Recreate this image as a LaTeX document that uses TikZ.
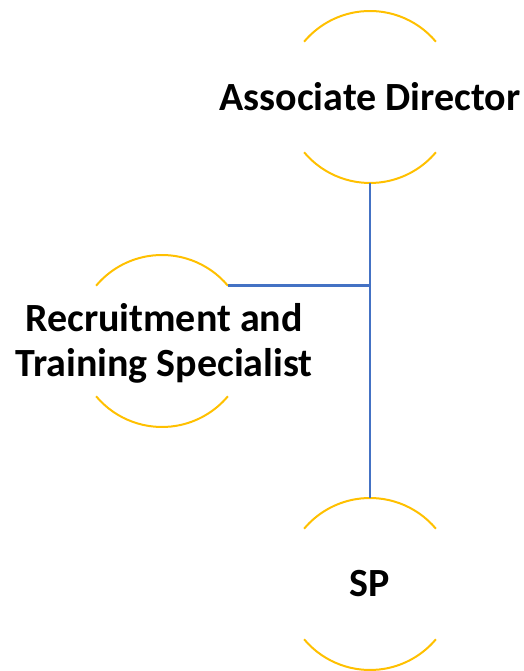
\documentclass[tikz,border=0pt]{standalone}
\usepackage{fontspec}
\setmainfont{Carlito}
\definecolor{ringgold}{HTML}{FFC000}
\definecolor{linkblue}{HTML}{4472C4}
\begin{document}
\begin{tikzpicture}[x=1pt,y=1pt,
  ring/.style={circle,minimum size=172pt,inner sep=0pt,outer sep=0pt},
  rtext/.style={font=\fontsize{40}{45}\selectfont\bfseries,align=center},
  arcline/.style={draw=ringgold,line width=2pt},
  link/.style={draw=linkblue,line width=2.5pt}]
\useasboundingbox (0,0) rectangle (523,671);
\node[ring,label={[rtext]center:Associate Director}] (ad) at (370,574) {};
\node[ring,label={[rtext,xshift=2pt,yshift=-2pt]center:Recruitment and\\Training Specialist}] (rts) at (162,330) {};
\node[ring,label={[rtext]center:SP}] (sp) at (370,87) {};
\foreach \n in {ad,rts,sp}{
  \draw[arcline] (\n.40) arc[start angle=40,end angle=140,radius=86pt];
  \draw[arcline] (\n.220) arc[start angle=220,end angle=320,radius=86pt];
}
\coordinate (j) at (ad.south |- rts.40);
\draw[link] (ad.south) -- (sp.north);
\draw[link] (rts.40) -- (j);
\end{tikzpicture}
\end{document}
